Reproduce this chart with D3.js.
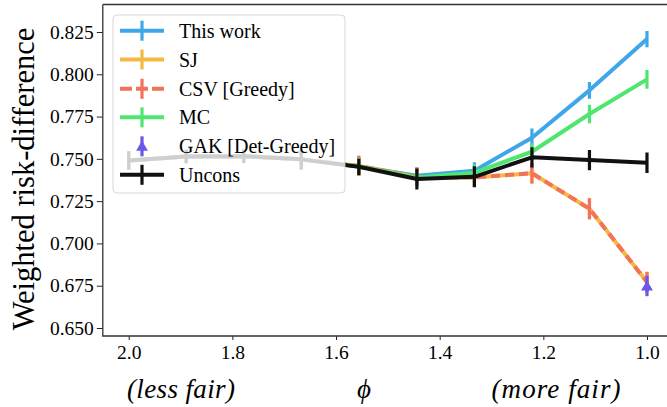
<!DOCTYPE html>
<html><head><meta charset="utf-8">
<script src="https://cdn.jsdelivr.net/npm/d3@7"></script>
<style>body{margin:0;background:#fff}svg{display:block}</style>
</head><body><svg id="c" width="667" height="407"></svg>
<script>
const phi = [2.0, 1.889, 1.778, 1.667, 1.556, 1.444, 1.333, 1.222, 1.111, 1.0];
const xTicks = [2.0, 1.8, 1.6, 1.4, 1.2, 1.0];
const yTicks = [0.650, 0.675, 0.700, 0.725, 0.750, 0.775, 0.800, 0.825];

const thisWork    = [0.749, 0.7514, 0.7516, 0.7497, 0.7455, 0.7400, 0.7430, 0.7625, 0.7905, 0.8208];
const thisWorkErr = [0.0055, 0.004, 0.004, 0.006, 0.005, 0.005, 0.005, 0.0055, 0.005, 0.0048];
const sj          = [0.749, 0.7514, 0.7516, 0.7497, 0.7458, 0.7394, 0.7390, 0.7415, 0.7205, 0.6772];
const sjErr       = [0.0055, 0.004, 0.004, 0.006, 0.006, 0.0055, 0.0055, 0.006, 0.0062, 0.006];
const csv         = [0.749, 0.7514, 0.7516, 0.7497, 0.7458, 0.7394, 0.7390, 0.7415, 0.7205, 0.6772];
const csvErr      = [0.0055, 0.004, 0.004, 0.006, 0.006, 0.0055, 0.0055, 0.006, 0.0062, 0.006];
const mc          = [0.749, 0.7514, 0.7516, 0.7497, 0.7455, 0.7390, 0.7418, 0.7542, 0.7765, 0.7970];
const mcErr       = [0.0055, 0.004, 0.004, 0.006, 0.005, 0.005, 0.005, 0.005, 0.0055, 0.0055];
const gakPhi      = [1.0];
const gak         = [0.6748];
const gakErr      = [0.006];
const uncons      = [0.749, 0.7514, 0.7516, 0.7497, 0.7453, 0.7381, 0.7394, 0.7509, 0.7493, 0.7477];
const unconsErr   = [0.0055, 0.004, 0.004, 0.006, 0.0048, 0.0062, 0.0062, 0.006, 0.006, 0.006];

const seriesNames = ["This work", "SJ", "CSV [Greedy]", "MC", "GAK [Det-Greedy]", "Uncons"];

const svg = d3.select("#c");
const L = 102.8, R = 672.9, T = 4.5, B = 336;
const x = d3.scaleLinear().domain([2.05, 0.95]).range([L, R]);
const y = d3.scaleLinear().domain([0.64527, 0.84126]).range([B, T]);
const serif = "Liberation Serif, serif";

const series = [
  {name: seriesNames[0], xs: phi, v: thisWork, e: thisWorkErr, color: "#3fa6ea", dash: null, line: true},
  {name: seriesNames[1], xs: phi, v: sj, e: sjErr, color: "#f5b841", dash: null, line: true},
  {name: seriesNames[2], xs: phi, v: csv, e: csvErr, color: "#f2725a", dash: "9,5", line: true},
  {name: seriesNames[3], xs: phi, v: mc, e: mcErr, color: "#4ee66f", dash: null, line: true},
  {name: seriesNames[4], xs: gakPhi, v: gak, e: gakErr, color: "#6a58e8", dash: null, line: false, marker: true},
  {name: seriesNames[5], xs: phi, v: uncons, e: unconsErr, color: "#111111", dash: null, line: true}
];

const plot = svg.append("g");
svg.append("clipPath").attr("id","pc").append("rect").attr("x",L).attr("y",T).attr("width",R-L).attr("height",B-T);
plot.attr("clip-path","url(#pc)");

const line = d3.line().x(d => x(d[0])).y(d => y(d[1]));
series.forEach(s => {
  const pts = s.xs.map((p,i) => [p, s.v[i], s.e[i]]);
  plot.append("g").selectAll("line").data(pts).join("line")
    .attr("x1", d => x(d[0])).attr("x2", d => x(d[0]))
    .attr("y1", d => y(d[1]-d[2])).attr("y2", d => y(d[1]+d[2]))
    .attr("stroke", s.color).attr("stroke-width", 3.2);
  if (s.line) {
    plot.append("path").datum(pts).attr("d", line).attr("fill","none")
      .attr("stroke", s.color).attr("stroke-width", 4)
      .attr("stroke-linejoin","round")
      .attr("stroke-dasharray", s.dash);
  }
  if (s.marker) {
    plot.append("g").selectAll("path").data(pts).join("path")
      .attr("d", d3.symbol().type(d3.symbolTriangle).size(60))
      .attr("transform", d => `translate(${x(d[0])},${y(d[1])+1})`)
      .attr("fill", s.color);
  }
});

// axes
const gx = svg.append("g").attr("transform", `translate(0,${B})`)
  .call(d3.axisBottom(x).tickValues(xTicks).tickFormat(d3.format(".1f")).tickSize(4).tickPadding(5));
const gy = svg.append("g").attr("transform", `translate(${L},0)`)
  .call(d3.axisLeft(y).tickValues(yTicks).tickFormat(d3.format(".3f")).tickSize(6).tickPadding(3));
[gx, gy].forEach(g => {
  g.select(".domain").remove();
  g.selectAll("line").attr("stroke","#222").attr("stroke-width",1);
  g.selectAll("text").attr("font-family", serif).attr("font-size", 19.5).attr("fill","#000");
});
// spines
svg.append("path").attr("d", `M${L},${T}H${R}M${L},${T}V${B}H${R}`).attr("fill","none").attr("stroke","#333").attr("stroke-width",1.3);

// legend
const lg = svg.append("g");
lg.append("rect").attr("x",113).attr("y",15).attr("width",232).attr("height",178).attr("rx",4)
  .attr("fill","rgba(255,255,255,0.8)").attr("stroke","rgba(204,204,204,0.8)").attr("stroke-width",1);
const rowY = [30.7, 59.5, 88.8, 117.3, 146.3, 174.8];
series.forEach((s,i) => {
  const g = lg.append("g").attr("transform", `translate(0,${rowY[i]})`);
  if (s.line) g.append("line").attr("x1",120).attr("x2",164).attr("y1",0).attr("y2",0)
    .attr("stroke", s.color).attr("stroke-width",4).attr("stroke-dasharray", s.dash ? "12,4" : null);
  g.append("line").attr("x1",142).attr("x2",142).attr("y1",-10).attr("y2",10)
    .attr("stroke", s.color).attr("stroke-width",3.2);
  if (s.marker) g.append("path").attr("d", d3.symbol().type(d3.symbolTriangle).size(60)).attr("transform","translate(142,1)").attr("fill", s.color);
  g.append("text").attr("x",179).attr("y",0).attr("dy","0.35em").attr("font-family",serif).attr("font-size",20).attr("fill","#000").text(s.name);
});

// y label
svg.append("text").attr("transform","translate(34,179) rotate(-90)").attr("text-anchor","middle")
  .attr("font-family",serif).attr("font-size",30.5).attr("fill","#000").text("Weighted risk-difference");
// x labels
const xl = [["(less fair)", 181, 108], ["ϕ", 364, null], ["(more fair)", 556, 129]];
xl.forEach(([t, cx, w]) => {
  const el = svg.append("text").attr("x",cx).attr("y",398).attr("text-anchor","middle")
    .attr("font-family",serif).attr("font-style","italic").attr("font-size",27).attr("fill","#000").text(t);
  if (w) el.attr("textLength", w).attr("lengthAdjust","spacing");
});
</script></body></html>
